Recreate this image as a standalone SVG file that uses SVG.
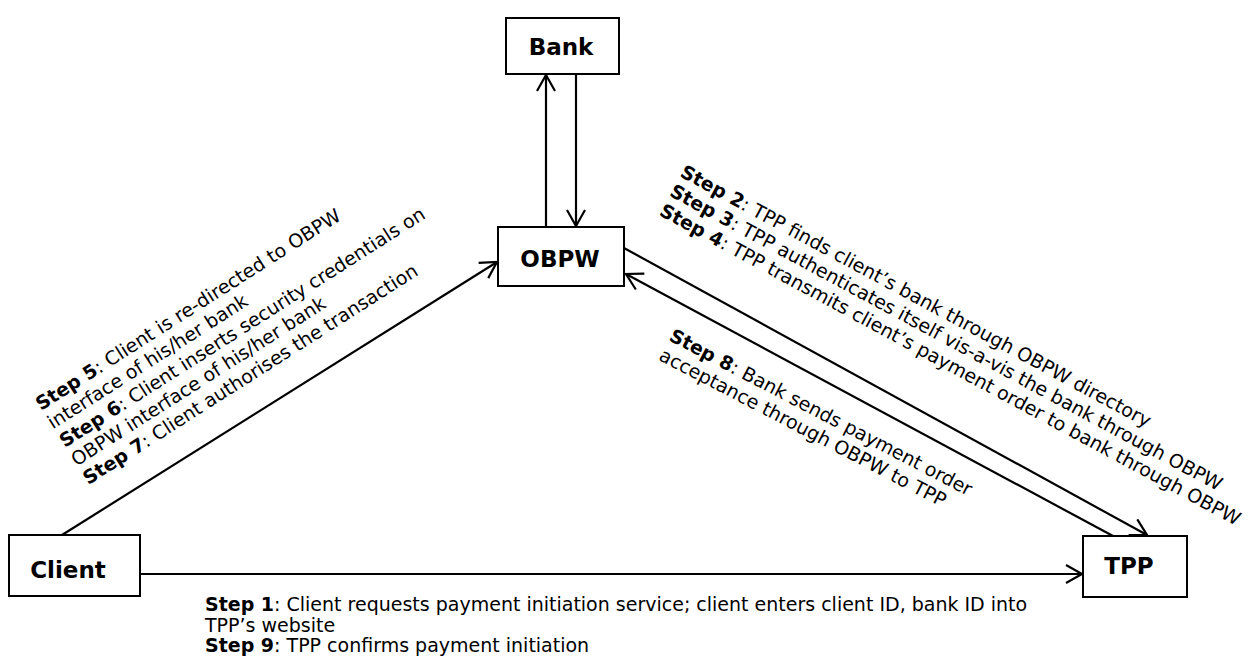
<svg xmlns="http://www.w3.org/2000/svg" width="1250" height="660" viewBox="0 0 1250 660">
  <style>
    .box { fill: #fff; stroke: #000; stroke-width: 2; }
    .node { font-family: "DejaVu Sans", Verdana, sans-serif; font-weight: bold; font-size: 23px; text-anchor: middle; fill: #000; }
    .lbl { font-family: "DejaVu Sans", Verdana, sans-serif; font-size: 19px; fill: #000; }
    .note { font-family: "DejaVu Sans", Verdana, sans-serif; font-size: 19px; fill: #000; }
    .b { font-weight: bold; }
    .conn { stroke: #000; stroke-width: 2.2; fill: none; marker-end: url(#arr); }
  </style>
  <defs>
    <!-- open V arrowhead -->
    <marker id="arr" markerUnits="userSpaceOnUse" markerWidth="24" markerHeight="24" viewBox="-20 -12 24 24" refX="0" refY="0" orient="auto">
      <path d="M-16,-9 L0,0 L-16,9" fill="none" stroke="#000" stroke-width="2.2"/>
    </marker>
  </defs>
  <rect width="1250" height="660" fill="#fff"/>

  <g id="connectors">
    <path class="conn" d="M62,535 L497,262"/>
    <path class="conn" d="M624,248 L1147,535"/>
    <path class="conn" d="M1113,536 L626,274"/>
    <path class="conn" d="M140,574 L1082,574"/>
    <path class="conn" d="M546,227 L546,75"/>
    <path class="conn" d="M576,74 L576,226"/>
  </g>

  <g id="bank">
    <rect class="box" x="506" y="18" width="113" height="56"/>
    <text class="node" x="561" y="55">Bank</text>
  </g>
  <g id="obpw">
    <rect class="box" x="498" y="227" width="126" height="59"/>
    <text class="node" x="560" y="267">OBPW</text>
  </g>
  <g id="client">
    <rect class="box" x="9" y="535" width="131" height="61"/>
    <text class="node" x="68" y="578">Client</text>
  </g>
  <g id="tpp">
    <rect class="box" x="1083" y="536" width="104" height="61"/>
    <text class="node" x="1129" y="574">TPP</text>
  </g>

  <g id="labels">
    <text class="lbl" transform="translate(41,411) rotate(-32.5)">
      <tspan x="0" y="0"><tspan class="b">Step 5</tspan>: Client is re-directed to OBPW</tspan>
      <tspan x="0" y="22">interface of his/her bank</tspan>
      <tspan x="0" y="44"><tspan class="b">Step 6</tspan>: Client inserts security credentials on</tspan>
      <tspan x="0" y="66">OBPW interface of his/her bank</tspan>
      <tspan x="0" y="88"><tspan class="b">Step 7</tspan>: Client authorises the transaction</tspan>
    </text>
    <text class="lbl" transform="translate(679,176) rotate(28.3)">
      <tspan x="0" y="0"><tspan class="b">Step 2</tspan>: TPP finds client’s bank through OBPW directory</tspan>
      <tspan x="0" y="22"><tspan class="b">Step 3</tspan>: TPP authenticates itself vis-a-vis the bank through OBPW</tspan>
      <tspan x="0" y="44"><tspan class="b">Step 4</tspan>: TPP transmits client’s payment order to bank through OBPW</tspan>
    </text>
    <text class="lbl" transform="translate(668,340) rotate(27.5)">
      <tspan x="0" y="0"><tspan class="b">Step 8</tspan>: Bank sends payment order</tspan>
      <tspan x="0" y="22">acceptance through OBPW to TPP</tspan>
    </text>
    <text class="note">
      <tspan x="205" y="611"><tspan class="b">Step 1</tspan>: Client requests payment initiation service; client enters client ID, bank ID into</tspan>
      <tspan x="205" y="632">TPP’s website</tspan>
      <tspan x="205" y="652"><tspan class="b">Step 9</tspan>: TPP confirms payment initiation</tspan>
    </text>
  </g>
</svg>
